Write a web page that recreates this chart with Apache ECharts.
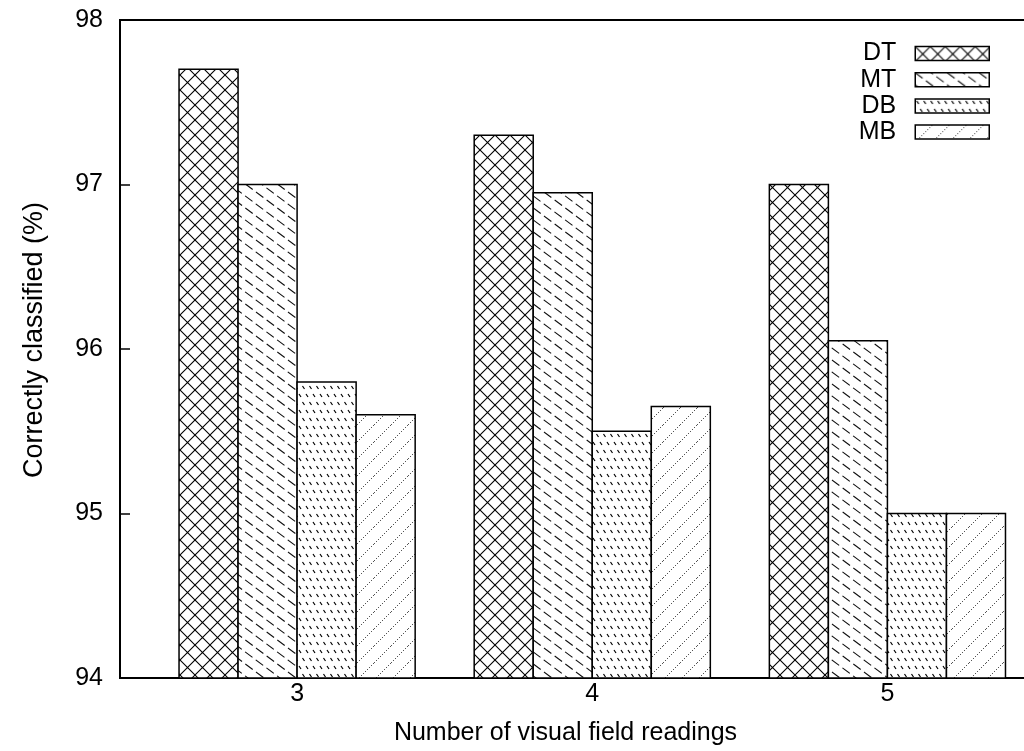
<!DOCTYPE html>
<html>
<head>
<meta charset="utf-8">
<script src="https://cdn.jsdelivr.net/npm/echarts@6/dist/echarts.min.js"></script>
<style>
  html, body { margin: 0; padding: 0; background: #fff; }
  #chart { width: 1024px; height: 751px; }
</style>
</head>
<body>
<div id="chart"></div>
<script>
// Number of visual field readings on the x axis
const readings = [3, 4, 5];
// Correctly classified (%) per classifier
const seriesNames = ['DT', 'MT', 'DB', 'MB'];
const valuesDT = [97.7, 97.3, 97.0];
const valuesMT = [97.0, 96.95, 96.05];
const valuesDB = [95.8, 95.5, 95.0];
const valuesMB = [95.6, 95.65, 95.0];
const yTicks = [94, 95, 96, 97, 98];

const seriesValues = [valuesDT, valuesMT, valuesDB, valuesMB];

// Each bar takes 0.2 x-units; the four bars of a group sit around the reading value.
const barSpan = 0.2;
const barOffsets = [-0.4, -0.2, 0, 0.2];

const FONT = '"Liberation Sans", Arial, Helvetica, sans-serif';

// Hatch tiles for the bar fills
function makeTile(w, h, draw) {
  const c = document.createElement('canvas');
  c.width = w; c.height = h;
  const g = c.getContext('2d');
  g.fillStyle = '#fff';
  g.fillRect(0, 0, w, h);
  draw(g, w, h);
  return { image: c, repeat: 'repeat' };
}

// DT: cross hatch
const crossHatch = makeTile(15, 15, (g, w, h) => {
  g.strokeStyle = '#000';
  g.lineWidth = 1.1;
  for (let k = -1; k <= 1; k++) {
    g.beginPath();
    g.moveTo(k * w, 0); g.lineTo(k * w + w, h);
    g.moveTo(k * w, h); g.lineTo(k * w + w, 0);
    g.stroke();
  }
});

// MT: dashed backward diagonals, two lines per 32x24 tile, three dashes per line
const backDashes = makeTile(32, 24, (g, w, h) => {
  g.strokeStyle = '#111';
  g.lineWidth = 1.1;
  const dash = 0.23;
  g.beginPath();
  for (let ox = -2 * w; ox <= 2 * w; ox += w / 2) {
    const phase = (Math.round(ox / (w / 2)) % 2 === 0) ? 0 : 0.16;
    for (let t = -2; t <= 2; t += 1 / 3) {
      const a = t + phase, b = a + dash;
      g.moveTo(ox + w * a, h * a);
      g.lineTo(ox + w * b, h * b);
    }
  }
  g.stroke();
});

// DB: dense short marks on a staggered lattice
const denseMarks = makeTile(7, 16, (g) => {
  g.strokeStyle = '#000';
  g.lineWidth = 1.2;
  g.beginPath();
  g.moveTo(1.5, 2); g.lineTo(3.5, 5);
  g.moveTo(5, 10); g.lineTo(7, 13);
  g.moveTo(-2, 10); g.lineTo(0, 13);
  g.stroke();
});

// MB: dotted forward diagonals
const forwardDots = makeTile(17, 17, (g, w, h) => {
  g.fillStyle = '#555';
  for (let i = 0; i < w; i += 2) {
    g.fillRect(i, h - 1 - i, 1, 1);
  }
});

const fills = [crossHatch, backDashes, denseMarks, forwardDots];

const chart = echarts.init(document.getElementById('chart'), null, { renderer: 'canvas' });

const series = seriesNames.map((name, si) => ({
  name: name,
  type: 'custom',
  itemStyle: { color: fills[si], borderColor: '#000', borderWidth: 1.5 },
  encode: { x: 0, y: 1 },
  data: readings.map((r, i) => [r, seriesValues[si][i]]),
  renderItem: function (params, api) {
    const x = api.value(0);
    const v = api.value(1);
    const off = barOffsets[params.seriesIndex];
    const tl = api.coord([x + off, v]);
    const br = api.coord([x + off + barSpan, yTicks[0]]);
    return {
      type: 'rect',
      shape: { x: tl[0], y: tl[1], width: br[0] - tl[0], height: br[1] - tl[1] },
      style: { fill: fills[params.seriesIndex], stroke: '#000', lineWidth: 1.5 }
    };
  }
}));

chart.setOption({
  backgroundColor: '#fff',
  animation: false,
  grid: {
    left: 120, top: 20, width: 915, height: 658,
    outerBoundsMode: 'none',
    containLabel: false,
    show: true, borderColor: '#000', borderWidth: 2, backgroundColor: 'transparent'
  },
  legend: {
    data: seriesNames,
    orient: 'vertical',
    right: 34,
    top: 41,
    align: 'right',
    icon: 'rect',
    itemWidth: 74,
    itemHeight: 14,
    itemGap: 1.2,
    padding: 0,
    selectedMode: false,
    itemStyle: { borderColor: '#000', borderWidth: 1.5 },
    textStyle: { fontFamily: FONT, fontSize: 25, color: '#000', lineHeight: 25, padding: [0, 14, 0, 0] }
  },
  xAxis: {
    type: 'value',
    min: 2.4,
    max: 5.5,
    name: 'Number of visual field readings',
    nameLocation: 'middle',
    nameGap: 43,
    nameTextStyle: { fontFamily: FONT, fontSize: 25, color: '#000', padding: [0, 24, 0, 0] },
    axisLine: { show: true, lineStyle: { color: '#000', width: 2 } },
    axisTick: { show: false },
    splitLine: { show: false },
    axisLabel: {
      customValues: readings,
      fontFamily: FONT, fontSize: 25, color: '#000', margin: 4
    }
  },
  yAxis: {
    type: 'value',
    min: yTicks[0],
    max: yTicks[yTicks.length - 1],
    interval: 1,
    name: 'Correctly classified (%)',
    nameLocation: 'middle',
    nameGap: 72,
    nameTextStyle: { fontFamily: FONT, fontSize: 27, color: '#000', padding: [0, 0, 0, 18] },
    axisLine: { show: true, lineStyle: { color: '#000', width: 2 } },
    axisTick: { show: true, inside: true, length: 10, lineStyle: { color: '#000', width: 1.5 } },
    splitLine: { show: false },
    axisLabel: { fontFamily: FONT, fontSize: 25, color: '#000', margin: 17 }
  },
  series: series
});
</script>
</body>
</html>
